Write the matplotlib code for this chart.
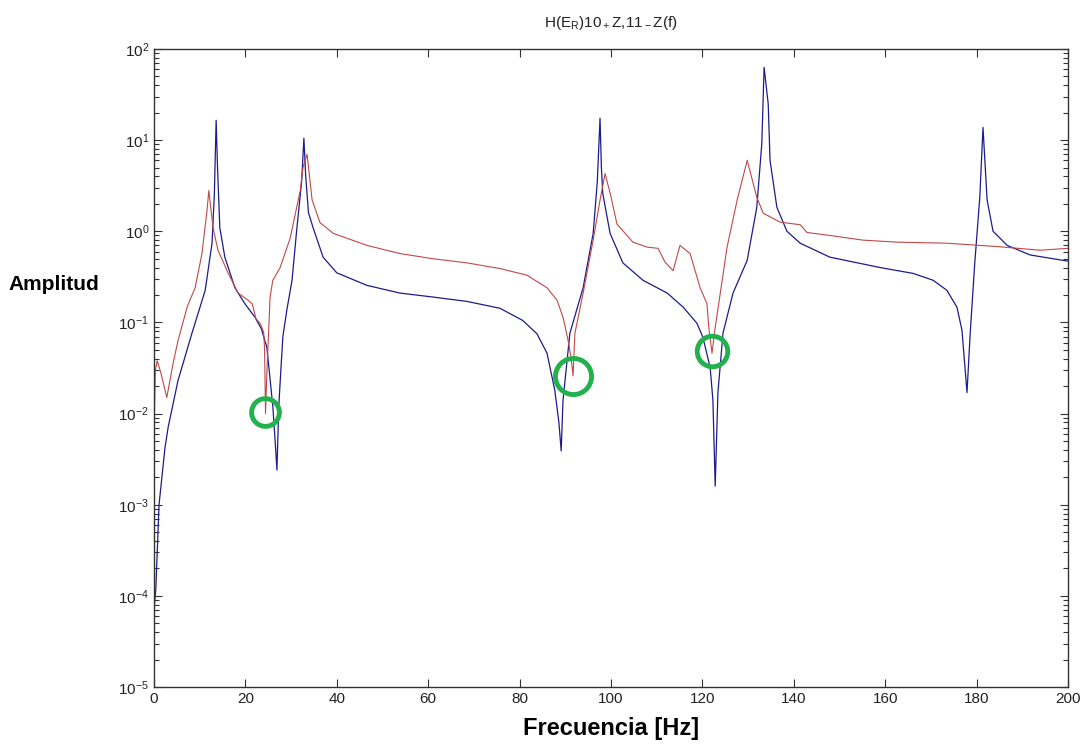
import matplotlib
matplotlib.use("Agg")
import matplotlib.pyplot as plt
from matplotlib.ticker import LogLocator, NullFormatter, FixedLocator

plt.rcParams['font.family'] = ['Liberation Sans', 'DejaVu Sans']
plt.rcParams['mathtext.default'] = 'regular'
plt.rcParams['axes.unicode_minus'] = False

# ---- data ----
blue_freq = [0.0, 0.4, 0.8, 1.1, 2.4, 3.1, 5.25, 8.3, 11.2, 12.7, 13.2, 13.6, 13.9, 14.4,
             15.5, 17.7, 19.9, 22.1, 23.5, 24.7, 26.0, 26.5, 26.9, 27.3, 27.6, 28.2, 29.1,
             30.2, 31.2, 32.3, 32.8, 33.2, 33.8, 34.8, 37.0, 40.0, 46.6, 53.8, 61.0, 68.5,
             75.7, 80.7, 83.8, 86.0, 87.7, 88.6, 89.1, 89.5, 91.0, 93.9, 96.1, 97.0, 97.6,
             97.9, 98.2, 99.8, 102.6, 107.0, 112.3, 115.8, 118.8, 120.1, 121.7, 122.3,
             122.8, 123.4, 124.5, 126.7, 129.8, 131.9, 133.0, 133.5, 134.4, 134.8, 136.3,
             138.5, 141.4, 147.9, 158.9, 166.1, 170.5, 173.5, 175.7, 176.8, 177.9, 178.6,
             179.6, 180.7, 181.4, 182.3, 183.6, 186.7, 191.7, 200.0]
blue_amp = [7e-5, 1.2e-4, 4e-4, 1.0e-3, 4.2e-3, 7.1e-3, 0.023, 0.076, 0.225, 0.74, 2.5, 16.5,
            5.0, 1.1, 0.52, 0.24, 0.16, 0.114, 0.085, 0.053, 0.012, 5.1e-3, 2.4e-3, 0.012,
            0.022, 0.07, 0.14, 0.29, 1.0, 3.5, 10.5, 4.0, 1.6, 1.1, 0.52, 0.35, 0.255, 0.21,
            0.19, 0.17, 0.143, 0.105, 0.075, 0.046, 0.018, 0.008, 3.9e-3, 0.014, 0.076, 0.24,
            0.95, 3.5, 17.4, 5.0, 2.6, 0.95, 0.45, 0.29, 0.21, 0.147, 0.098, 0.069, 0.032,
            0.014, 1.6e-3, 0.017, 0.076, 0.21, 0.48, 1.83, 9.2, 63.0, 25.0, 6.0, 1.83, 1.0,
            0.74, 0.52, 0.40, 0.345, 0.29, 0.225, 0.147, 0.082, 0.017, 0.076, 0.45, 2.36,
            13.8, 2.2, 1.0, 0.70, 0.55, 0.47]

red_freq = [0.0, 0.3, 0.7, 1.5, 2.8, 4.2, 5.25, 7.3, 9.0, 10.5, 11.6, 12.0, 12.9, 14.0,
            16.2, 18.4, 20.6, 21.5, 22.3, 23.2, 24.0, 24.2, 24.4, 24.7, 25.4, 26.0, 27.6,
            29.8, 32.0, 32.6, 33.5, 34.6, 36.3, 39.2, 46.6, 53.8, 61.0, 68.5, 75.7, 81.6,
            86.0, 88.2, 89.5, 90.6, 91.3, 91.7, 92.1, 93.9, 96.1, 97.6, 98.7, 100.0, 101.3,
            104.8, 107.9, 110.3, 111.8, 113.6, 115.1, 117.3, 119.5, 121.0, 121.4, 122.1,
            122.8, 125.4, 127.6, 129.8, 131.9, 133.3, 137.0, 141.4, 142.9, 147.9, 155.1,
            162.6, 173.5, 184.5, 193.9, 200.0]
red_amp = [6e-3, 0.03, 0.038, 0.028, 0.015, 0.036, 0.063, 0.15, 0.24, 0.57, 1.7, 2.8, 1.1,
           0.62, 0.35, 0.21, 0.175, 0.16, 0.11, 0.098, 0.078, 0.05, 0.01, 0.028, 0.19, 0.29,
           0.40, 0.84, 2.8, 5.0, 7.0, 2.2, 1.25, 0.95, 0.70, 0.57, 0.50, 0.45, 0.39, 0.33,
           0.24, 0.175, 0.114, 0.064, 0.04, 0.026, 0.076, 0.21, 0.8, 2.2, 4.3, 2.4, 1.2,
           0.76, 0.67, 0.65, 0.46, 0.37, 0.70, 0.57, 0.24, 0.16, 0.088, 0.046, 0.088, 0.67,
           2.2, 6.0, 2.36, 1.58, 1.26, 1.18, 0.97, 0.90, 0.80, 0.76, 0.74, 0.68, 0.62, 0.65]

circle_freq = [24.3, 91.7, 122.1]
circle_amp = [0.0105, 0.026, 0.049]
circle_size = [20, 26, 22]

x_ticks = [0, 20, 40, 60, 80, 100, 120, 140, 160, 180, 200]
title_text = r'H(E$_R$)10$_+$Z,11$_-$Z(f)'
xlabel_text = 'Frecuencia [Hz]'
ylabel_text = 'Amplitud'

# ---- figure ----
fig = plt.figure(figsize=(10.85, 7.5), dpi=100)
ax = fig.add_axes([154/1085, 1 - 687/750, (1068 - 154)/1085, (687 - 49)/750])

ax.plot(blue_freq, blue_amp, color='#1c1c8a', lw=0.9)
ax.plot(red_freq, red_amp, color='#c04848', lw=0.8)
for f, a, s in zip(circle_freq, circle_amp, circle_size):
    ax.plot([f], [a], marker='o', markersize=s, markerfacecolor='none',
            markeredgecolor='#22b14c', markeredgewidth=3.5, linestyle='none')

ax.set_yscale('log')
ax.set_xlim(0, 200)
ax.set_ylim(1e-5, 1e2)
ax.xaxis.set_major_locator(FixedLocator(x_ticks))
ax.yaxis.set_major_locator(LogLocator(base=10, numticks=20))
ax.yaxis.set_minor_locator(LogLocator(base=10, subs=[2, 3, 4, 5, 6, 7, 8, 9], numticks=20))
ax.yaxis.set_minor_formatter(NullFormatter())
ax.tick_params(which='both', direction='in', top=True, right=True, colors='#333333',
               labelcolor='#222222', labelsize=11)
ax.tick_params(which='major', length=6, width=0.8)
ax.tick_params(which='minor', length=3.5, width=0.8)
for sp in ax.spines.values():
    sp.set_color('#333333')
    sp.set_linewidth(1.0)

ax.set_title(title_text, fontsize=11, color='#222222', pad=16)
fig.text(611/1085, 1 - 728/750, xlabel_text, fontsize=17, fontweight='bold',
         ha='center', va='center')
fig.text(8/1085, 1 - 285/750, ylabel_text, fontsize=15, fontweight='bold',
         ha='left', va='center')

fig.savefig('out.png', dpi=100)
